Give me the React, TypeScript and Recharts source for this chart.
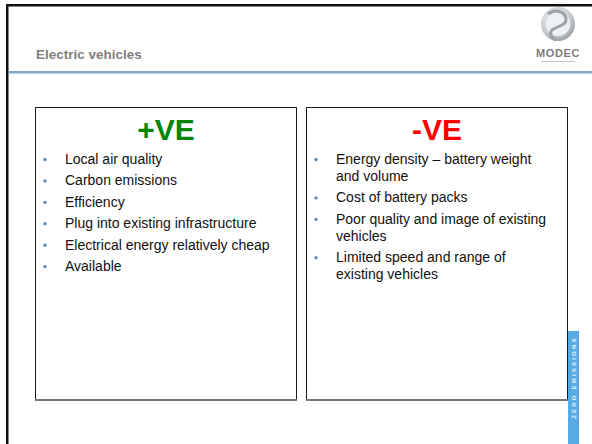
import React from 'react';
import { ScatterChart, Scatter, XAxis, YAxis } from 'recharts';

// ---- content ----
const slideTitle = 'Electric vehicles';
const headings = ['+VE', '-VE'];
const headingColors = ['#078507', '#ff0000'];
const positives: string[][] = [
  ['Local air quality'],
  ['Carbon emissions'],
  ['Efficiency'],
  ['Plug into existing infrastructure'],
  ['Electrical energy relatively cheap'],
  ['Available'],
];
const negatives: string[][] = [
  ['Energy density \u2013 battery weight', 'and volume'],
  ['Cost of battery packs'],
  ['Poor quality and image of existing', 'vehicles'],
  ['Limited speed and range of', 'existing vehicles'],
];
const brand = 'MODEC';
const sideLabel = 'ZERO EMISSIONS';

// paragraph spacing, in lines
const GAP = 0.26;
function toPoints(items: string[][], side: number) {
  let row = 0;
  return items.map((lines) => {
    const p = { side, row, lines };
    row += lines.length + GAP;
    return p;
  });
}
const posPoints = toPoints(positives, 0);
const negPoints = toPoints(negatives, 1);

const FONT = '"Liberation Sans", Arial, Helvetica, sans-serif';

const BulletItem = (props: any) => {
  const { cx, cy, payload } = props;
  if (cx == null || cy == null) return null;
  const tx = cx - 101;
  return (
    <g>
      <circle cx={cx - 121} cy={cy - 4.5} r={1.7} fill="#5b8dbb" />
      <text x={tx} y={cy} fontSize={14} fill="#111" fontFamily={FONT}>
        {payload.lines.map((l: string, i: number) => (
          <tspan key={i} x={tx} dy={i === 0 ? 0 : 17}>
            {l}
          </tspan>
        ))}
      </text>
    </g>
  );
};

const HeadingTick = (props: any) => {
  const { x, y, payload } = props;
  const i = payload.value as number;
  return (
    <text
      x={x}
      y={y}
      textAnchor="middle"
      fontSize={30}
      fontWeight="bold"
      fill={headingColors[i]}
      fontFamily={FONT}
    >
      {headings[i]}
    </text>
  );
};

const Decor = () => (
  <svg width={592} height={444} style={{ position: 'absolute', left: 0, top: 0 }}>
    <rect x={0} y={0} width={592} height={444} fill="#fff" />
    {/* outer frame */}
    <rect x={6} y={4} width={586} height={2.5} fill="#111" />
    <rect x={6} y={4} width={2.5} height={440} fill="#111" />
    {/* title */}
    <text x={36} y={59} fontSize={13.5} fontWeight="bold" fill="#7f7f7f" fontFamily={FONT}>
      {slideTitle}
    </text>
    {/* header rule */}
    <rect x={8.5} y={71} width={584} height={2.5} fill="#7ea8cc" />
    {/* logo */}
    <defs>
      <radialGradient id="lg" cx="0.4" cy="0.35" r="0.7">
        <stop offset="0" stopColor="#f2f4f5" />
        <stop offset="0.7" stopColor="#c3cbd0" />
        <stop offset="1" stopColor="#8e979d" />
      </radialGradient>
    </defs>
    <circle cx={558} cy={24} r={17} fill="url(#lg)" />
    <circle cx={558} cy={24} r={12} fill="#eef1f3" />
    <path d="M548 14 C556 8 566 12 566 20 C566 26 556 26 552 30 C549 33 551 38 556 40" stroke="#9aa3a9" strokeWidth={3} fill="none" />
    <text x={558} y={57} textAnchor="middle" fontSize={11} fontWeight="bold" fill="#7d7d7d" fontFamily={FONT} letterSpacing={0.6}>
      {brand}
    </text>
    <rect x={541} y={61} width={34} height={1} fill="#c8c8c8" />
    {/* boxes */}
    <rect x={35.5} y={107.5} width={261} height={292} fill="none" stroke="#1c1c1c" strokeWidth={1} />
    <rect x={306.5} y={107.5} width={261} height={292} fill="none" stroke="#1c1c1c" strokeWidth={1} />
    <rect x={35} y={399} width={262} height={2} fill="#777" />
    <rect x={306} y={399} width={262} height={2} fill="#777" />
    {/* side band */}
    <rect x={568} y={331} width={11} height={113} fill="#57abe0" />
    <text
      x={574}
      y={377.5}
      transform="rotate(-90 574 377.5)"
      textAnchor="middle"
      dominantBaseline="central"
      fontSize={6}
      fontWeight="bold"
      fill="#eaf5fc"
      fontFamily={FONT}
      letterSpacing={2.2}
    >
      {sideLabel}
    </text>
  </svg>
);

export default function App() {
  return (
    <div style={{ position: 'absolute', left: 0, top: 0, width: 592, height: 444, background: '#fff' }}>
      <Decor />
      <div style={{ position: 'absolute', left: 0, top: 0 }}>
        <ScatterChart width={592} height={444} margin={{ top: 117, right: 19.5, bottom: 59, left: 30.5 }}>
          <XAxis
            type="number"
            dataKey="side"
            orientation="top"
            domain={[-0.5, 1.5]}
            ticks={[0, 1]}
            interval={0}
            height={30}
            axisLine={false}
            tickLine={false}
            tickSize={0}
            tickMargin={7}
            tick={<HeadingTick />}
          />
          <YAxis type="number" dataKey="row" domain={[-1, 13]} reversed hide />
          <Scatter data={posPoints} shape={<BulletItem />} isAnimationActive={false} />
          <Scatter data={negPoints} shape={<BulletItem />} isAnimationActive={false} />
        </ScatterChart>
      </div>
    </div>
  );
}
